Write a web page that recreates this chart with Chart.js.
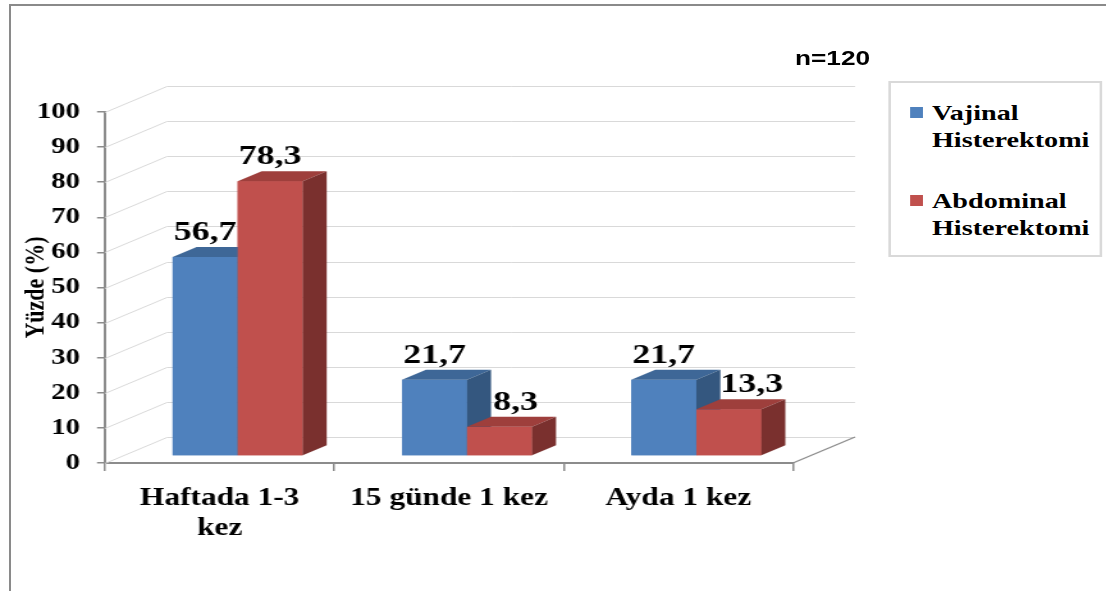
<!DOCTYPE html>
<html>
<head>
<meta charset="utf-8">
<script src="https://cdn.jsdelivr.net/npm/chart.js@4.4.1/dist/chart.umd.min.js"></script>
<style>
  html, body { margin: 0; padding: 0; background: #fff; width: 1106px; height: 591px; overflow: hidden; }
  #frame { position: absolute; left: 9px; top: 4px; right: -6px; bottom: -6px;
           border-top: 2px solid #8a8a8a; border-left: 2px solid #8a8a8a; }
  /* the whole figure is laid out on a narrower stage and widened horizontally */
  #stage { position: absolute; left: 0; top: 0; height: 591px; transform-origin: 0 0; }
  #chart { position: absolute; left: 0; top: 0; }
  #note { position: absolute; line-height: 20px;
          font: bold 20.5px "Liberation Sans", Arial, sans-serif; color: #000; white-space: nowrap; }
  #legend { position: absolute; border: 2px solid #d9d9d9; background: #fff; }
  .swatch { position: absolute; height: 11px; }
  .ltext { position: absolute; color: #000;
           font: bold 22px "Liberation Serif", "Times New Roman", serif; line-height: 27px; }
</style>
</head>
<body>
<div id="frame"></div>
<div id="stage">
  <canvas id="chart" height="591"></canvas>
  <div id="note">n=120</div>
  <div id="legend"></div>
</div>
<script>
// ---- data ----
const categories = [['Haftada 1-3', 'kez'], '15 günde 1 kez', 'Ayda 1 kez'];
const seriesNames = ['Vajinal Histerektomi', 'Abdominal Histerektomi'];
const vajinal = [56.7, 21.7, 21.7];
const abdominal = [78.3, 8.3, 13.3];
const yMin = 0, yMax = 100, yStep = 10;

// ---- stage geometry ----
const PAGE_W = 1106, PAGE_H = 591;
const STAGE_W = 864;                  // stage is widened to the page width
const S = PAGE_W / STAGE_W;
const px = v => v / S;                // page pixels (horizontal) -> stage pixels

const stage = document.getElementById('stage');
stage.style.width = STAGE_W + 'px';
stage.style.transform = 'scaleX(' + S + ')';
const canvas = document.getElementById('chart');
canvas.width = STAGE_W;

const SERIF = '"Liberation Serif", "Times New Roman", serif';
const faces = [
  { front: '#4f81bd', top: '#3e6797', side: '#34577f' },
  { front: '#c0504d', top: '#9e3f3c', side: '#7a302e' }
];
const AXIS_LEFT = 105, AXIS_RIGHT = 793, AXIS_TOP = 112, AXIS_BOTTOM = 463;
const WALL = { dx: px(62), dy: -26 };   // depth of side wall / floor
const SHIFT = { dx: px(18), dy: -7 };   // bars sit part-way into the depth
const DEPTH = { dx: px(24), dy: -10 };  // thickness of each bar
const labelNudge = [[0, 0, 0], [0, px(16), px(23)]];

// sample size note
const note = document.getElementById('note');
note.style.left = px(795) + 'px';
note.style.top = '46px';

// legend box
const legend = document.getElementById('legend');
const LBOX = { left: 888, top: 81, right: 1102, bottom: 257 };
legend.style.left = px(LBOX.left) + 'px';
legend.style.top = LBOX.top + 'px';
legend.style.width = (px(LBOX.right - LBOX.left) - 4) + 'px';
legend.style.height = (LBOX.bottom - LBOX.top - 4) + 'px';
seriesNames.forEach((name, i) => {
  const sw = document.createElement('div');
  sw.className = 'swatch';
  sw.style.left = (px(910 - LBOX.left) - 2) + 'px';
  sw.style.width = px(13) + 'px';
  sw.style.top = (24 + i * 88) + 'px';
  sw.style.background = faces[i].front;
  legend.appendChild(sw);
  const t = document.createElement('div');
  t.className = 'ltext';
  t.style.left = (px(932 - LBOX.left) - 2) + 'px';
  t.style.width = px(1098 - 932) + 'px';
  t.style.top = (15.5 + i * 88) + 'px';
  t.textContent = name;
  legend.appendChild(t);
});

const fmt = v => v.toFixed(1).replace('.', ',');

const depthPlugin = {
  id: 'depth3d',
  beforeDatasetsDraw(chart) {
    const { ctx, chartArea: a, scales: { y } } = chart;
    ctx.save();
    ctx.lineWidth = 1;
    ctx.strokeStyle = '#d9d9d9';
    y.ticks.forEach(t => {
      const py = Math.round(y.getPixelForValue(t.value)) + 0.5;
      ctx.beginPath();
      ctx.moveTo(a.left, py);
      ctx.lineTo(a.left + WALL.dx, py + WALL.dy);
      ctx.lineTo(a.right + WALL.dx, py + WALL.dy);
      ctx.stroke();
    });
    ctx.strokeStyle = '#8c8c8c';
    ctx.lineWidth = 1.3;
    ctx.beginPath();
    ctx.moveTo(a.right, a.bottom);
    ctx.lineTo(a.right + WALL.dx, a.bottom + WALL.dy);
    ctx.stroke();
    ctx.restore();
    // bars are drawn pushed back into the box
    ctx.save();
    ctx.translate(SHIFT.dx, SHIFT.dy);
  },
  afterDatasetsDraw(chart) {
    const { ctx } = chart;
    const metas = chart.data.datasets.map((_, d) => chart.getDatasetMeta(d));
    const n = chart.data.labels.length;
    // left bar first, so the right-hand bar covers its neighbour's side face
    for (let i = 0; i < n; i++) {
      metas.forEach((meta, d) => {
        const el = meta.data[i];
        const { x, y, base, width } = el.getProps(['x', 'y', 'base', 'width'], true);
        const l = x - width / 2, r = x + width / 2;
        const f = faces[d];
        ctx.fillStyle = f.front;
        ctx.fillRect(l, y, width, base - y);
        ctx.fillStyle = f.top;
        ctx.beginPath();
        ctx.moveTo(l, y); ctx.lineTo(r, y);
        ctx.lineTo(r + DEPTH.dx, y + DEPTH.dy); ctx.lineTo(l + DEPTH.dx, y + DEPTH.dy);
        ctx.closePath(); ctx.fill();
        ctx.fillStyle = f.side;
        ctx.beginPath();
        ctx.moveTo(r, y); ctx.lineTo(r + DEPTH.dx, y + DEPTH.dy);
        ctx.lineTo(r + DEPTH.dx, base + DEPTH.dy); ctx.lineTo(r, base);
        ctx.closePath(); ctx.fill();
      });
    }
    // value labels
    ctx.fillStyle = '#000';
    ctx.font = 'bold 28px ' + SERIF;
    ctx.textAlign = 'center';
    ctx.textBaseline = 'alphabetic';
    metas.forEach((meta, d) => {
      meta.data.forEach((el, i) => {
        const { x, y } = el.getProps(['x', 'y'], true);
        const v = chart.data.datasets[d].data[i];
        ctx.fillText(fmt(v), x + labelNudge[d][i], y - 17);
      });
    });
    ctx.restore();
  }
};

new Chart(canvas, {
  type: 'bar',
  data: {
    labels: categories,
    datasets: [
      { label: seriesNames[0], data: vajinal, backgroundColor: faces[0].front, borderWidth: 0 },
      { label: seriesNames[1], data: abdominal, backgroundColor: faces[1].front, borderWidth: 0 }
    ]
  },
  options: {
    responsive: false,
    animation: false,
    events: [],
    layout: { padding: { top: AXIS_TOP, right: STAGE_W - px(AXIS_RIGHT), bottom: 0, left: 0 } },
    datasets: { bar: { categoryPercentage: 0.567, barPercentage: 1.0, clip: false } },
    plugins: { legend: { display: false }, tooltip: { enabled: false } },
    scales: {
      x: {
        offset: true,
        afterFit: s => { s.height = PAGE_H - AXIS_BOTTOM; },
        grid: { drawOnChartArea: false, color: '#8c8c8c', lineWidth: 1.5, tickLength: 8 },
        border: { color: '#8c8c8c', width: 2 },
        ticks: { color: '#000', padding: 12, maxRotation: 0, autoSkip: false,
                 font: { family: SERIF, size: 24.5, weight: 'bold', lineHeight: 1.25 } }
      },
      y: {
        min: yMin, max: yMax,
        afterFit: s => { s.width = px(AXIS_LEFT); },
        grid: { drawOnChartArea: false, color: '#8c8c8c', lineWidth: 1.5, tickLength: px(8) },
        border: { color: '#8c8c8c', width: 2 },
        ticks: { stepSize: yStep, color: '#000', padding: px(17),
                 font: { family: SERIF, size: 22.5, weight: 'bold' } },
        title: { display: true, text: 'Yüzde (%)', color: '#000',
                 padding: { top: 15, bottom: 0 },
                 font: { family: SERIF, size: 22, weight: 'bold' } }
      }
    }
  },
  plugins: [depthPlugin]
});
</script>
</body>
</html>
